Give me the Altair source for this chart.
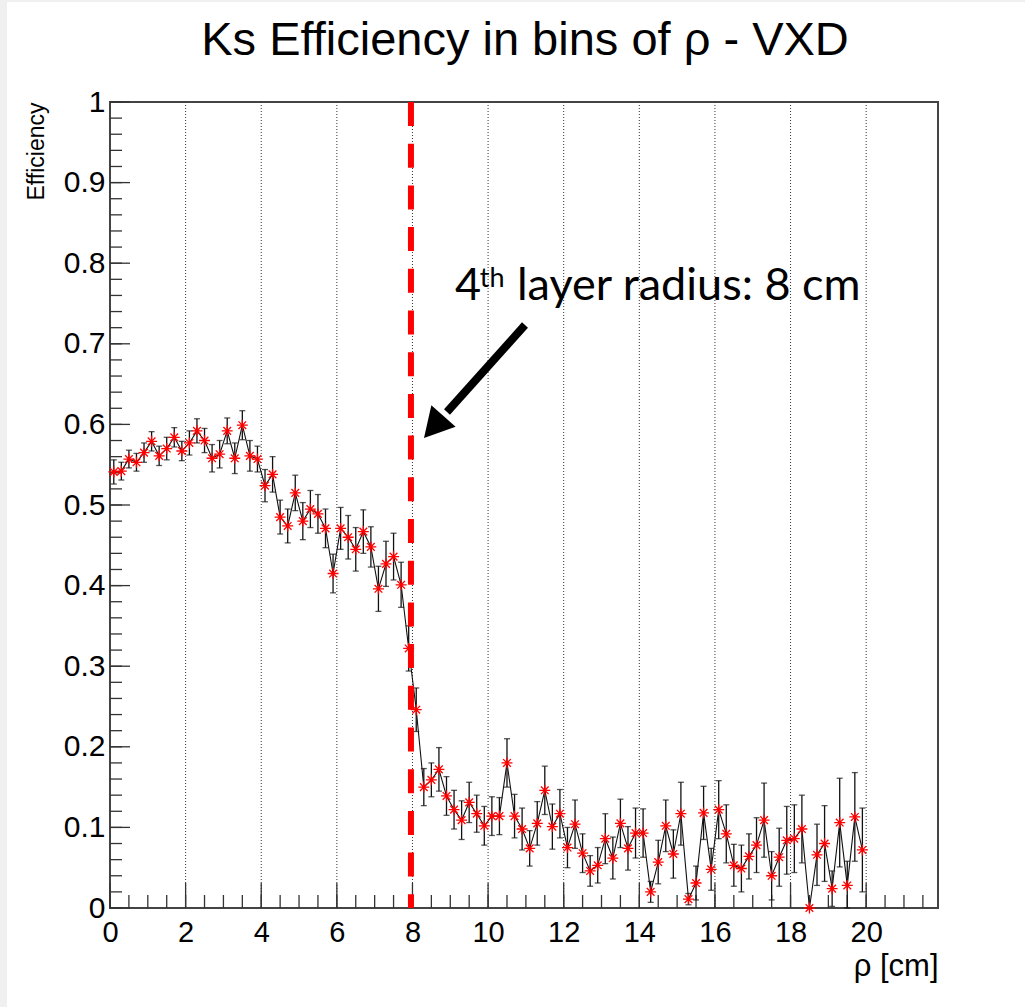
import altair as alt
import pandas as pd

# ---------------- data ----------------
rho = [round(0.1 + 0.2 * i, 1) for i in range(100)]  # bin centres (0.2 cm bins)

eff = [
    0.541, 0.542, 0.557, 0.553, 0.565, 0.579, 0.561, 0.570, 0.584, 0.567,
    0.577, 0.592, 0.580, 0.558, 0.563, 0.592, 0.558, 0.599, 0.561, 0.557,
    0.524, 0.538, 0.485, 0.474, 0.515, 0.480, 0.495, 0.489, 0.471, 0.415,
    0.471, 0.460, 0.445, 0.467, 0.448, 0.396, 0.427, 0.436, 0.401, 0.322,
    0.246, 0.150, 0.159, 0.172, 0.139, 0.122, 0.109, 0.131, 0.117, 0.102,
    0.114, 0.114, 0.180, 0.114, 0.098, 0.074, 0.105, 0.146, 0.101, 0.117,
    0.075, 0.104, 0.068, 0.046, 0.053, 0.086, 0.062, 0.105, 0.074, 0.093,
    0.093, 0.020, 0.057, 0.102, 0.067, 0.117, 0.011, 0.031, 0.118, 0.048,
    0.122, 0.092, 0.053, 0.049, 0.064, 0.078, 0.109, 0.040, 0.063, 0.084,
    0.086, 0.098, 0.000, 0.066, 0.080, 0.024, 0.106, 0.028, 0.113, 0.072,
]

err = [
    0.015, 0.011, 0.011, 0.011, 0.012, 0.012, 0.012, 0.014, 0.012, 0.012,
    0.015, 0.015, 0.015, 0.017, 0.017, 0.016, 0.019, 0.018, 0.019, 0.016,
    0.020, 0.022, 0.021, 0.021, 0.022, 0.023, 0.023, 0.024, 0.024, 0.024,
    0.026, 0.027, 0.027, 0.027, 0.025, 0.028, 0.028, 0.029, 0.028, 0.028,
    0.027, 0.023, 0.021, 0.027, 0.024, 0.024, 0.024, 0.025, 0.023, 0.024,
    0.024, 0.023, 0.030, 0.027, 0.026, 0.022, 0.027, 0.030, 0.028, 0.030,
    0.025, 0.030, 0.024, 0.019, 0.022, 0.031, 0.026, 0.030, 0.027, 0.031,
    0.030, 0.013, 0.027, 0.032, 0.030, 0.039, 0.007, 0.021, 0.033, 0.026,
    0.036, 0.036, 0.026, 0.029, 0.028, 0.034, 0.046, 0.030, 0.036, 0.042,
    0.042, 0.042, 0.000, 0.038, 0.047, 0.022, 0.055, 0.030, 0.055, 0.052,
]

x_major = [0, 2, 4, 6, 8, 10, 12, 14, 16, 18, 20]
x_grid = [2, 4, 6, 8, 10, 12, 14, 16, 18, 20]
x_minor = [i * 0.5 for i in range(44)]
y_major = [0, 0.1, 0.2, 0.3, 0.4, 0.5, 0.6, 0.7, 0.8, 0.9, 1]
y_minor = [round(i * 0.02, 2) for i in range(51)]

layer_radius = [7.96]

title_text = ["Ks Efficiency in bins of ρ - VXD"]

# annotation (data coordinates)
ann_main = [{"x": 9.125, "y": 0.7543, "t": "4"}]
ann_sup = [{"x": 9.78, "y": 0.7705, "t": "th"}]
ann_rest = [{"x": 10.764, "y": 0.7543, "t": "layer radius: 8 cm"}]
arrow_shaft = [{"x": 10.976, "y": 0.7233, "x2": 8.913, "y2": 0.6154}]
arrow_head = [{"x": 8.305, "y": 0.583}]

# ---------------- chart ----------------
W, H = 828, 806
FONT = "Liberation Sans"

df = pd.DataFrame({"x": rho, "y": eff, "e": err})
df["lo"] = (df["y"] - df["e"]).clip(lower=0)
df["hi"] = df["y"] + df["e"]

xs = alt.Scale(domain=[0, 21.9], nice=False, zero=False)
ys = alt.Scale(domain=[0, 1], nice=False, zero=False)

xaxis = alt.Axis(values=x_major, ticks=False, domain=False, grid=False,
                 labelFontSize=29, labelFont=FONT, labelColor="black",
                 labelPadding=10, labelFlush=False,
                 title="ρ [cm]", titleFont=FONT, titleFontSize=31,
                 titleFontWeight="normal", titleColor="black",
                 titleX=W, titleY=67, titleAlign="right",
                 titleBaseline="alphabetic", titleAnchor="end")
yaxis = alt.Axis(values=y_major, ticks=False, domain=False, grid=False,
                 labelFontSize=30, labelFont=FONT, labelColor="black",
                 labelPadding=5, labelFlush=False,
                 labelExpr="format(datum.value, '~g')",
                 title="Efficiency", titleFont=FONT, titleFontSize=23,
                 titleFontWeight="normal", titleColor="black",
                 titleAngle=270, titleX=-67, titleY=0, titleAlign="right",
                 titleBaseline="alphabetic", titleAnchor="end")


def X(f):
    return alt.X(f, type="quantitative", scale=xs, axis=xaxis)


def Y(f):
    return alt.Y(f, type="quantitative", scale=ys, axis=yaxis)


# light slide-background strips at the left and top edges
strip_left = alt.Chart(pd.DataFrame({"x": [0]})).mark_rect(color="#f0f0f0").encode(
    x=alt.value(-110), x2=alt.value(-103), y=alt.value(-102), y2=alt.value(H + 99))
strip_top = alt.Chart(pd.DataFrame({"x": [0]})).mark_rect(color="#f0f0f0").encode(
    x=alt.value(-110), x2=alt.value(W + 87), y=alt.value(-102), y2=alt.value(-100))

title = alt.Chart(pd.DataFrame({"t": title_text})).mark_text(
    font=FONT, fontSize=47, align="center", baseline="alphabetic", color="black"
).encode(x=alt.value(W / 2 + 1), y=alt.value(-47), text="t:N")

grid = alt.Chart(pd.DataFrame({"x": x_grid})).mark_rule(
    color="#333", strokeDash=[1, 2], strokeWidth=1
).encode(x=X("x"), y=alt.value(0), y2=alt.value(H))

xt_major = alt.Chart(pd.DataFrame({"x": x_major})).mark_rule(
    color="#333", strokeWidth=1.3
).encode(x=X("x"), y=alt.value(H), y2=alt.value(H - 25))

xt_minor = alt.Chart(pd.DataFrame({"x": x_minor})).mark_rule(
    color="#333", strokeWidth=1.3
).encode(x=X("x"), y=alt.value(H), y2=alt.value(H - 13))

yt_major = alt.Chart(pd.DataFrame({"y": y_major})).mark_rule(
    color="#333", strokeWidth=1.3
).encode(y=Y("y"), x=alt.value(0), x2=alt.value(20))

yt_minor = alt.Chart(pd.DataFrame({"y": y_minor})).mark_rule(
    color="#333", strokeWidth=1.3
).encode(y=Y("y"), x=alt.value(0), x2=alt.value(12))

line = alt.Chart(df).mark_line(color="#111", strokeWidth=1.1).encode(
    x=X("x"), y=Y("y"))

ebar = alt.Chart(df).mark_rule(color="#111", strokeWidth=1.3).encode(
    x=X("x"), y=Y("lo"), y2="hi")

cap_lo = alt.Chart(df).mark_tick(color="#111", orient="horizontal",
                                 size=6, thickness=1.3).encode(
    x=X("x"), y=Y("lo"))
cap_hi = alt.Chart(df).mark_tick(color="#111", orient="horizontal",
                                 size=6, thickness=1.3).encode(
    x=X("x"), y=Y("hi"))

ASTER = "M-1,0L1,0M0,-1L0,1M-0.7,-0.7L0.7,0.7M-0.7,0.7L0.7,-0.7"
pts = alt.Chart(df).mark_point(shape=ASTER, filled=False, color="#ff0000",
                               size=120, strokeWidth=1.3, opacity=1).encode(
    x=X("x"), y=Y("y"))

vline = alt.Chart(pd.DataFrame({"x": layer_radius})).mark_rule(
    color="#ff0000", strokeWidth=6, strokeDash=[24, 17.7]
).encode(x=X("x"), y=alt.value(0), y2=alt.value(H))

shaft = alt.Chart(pd.DataFrame(arrow_shaft)).mark_rule(
    color="black", strokeWidth=8, strokeCap="butt"
).encode(x=X("x"), y=Y("y"), x2="x2", y2="y2")

HEAD = "M0,0L-0.55,-1L0.55,-1Z"
head = alt.Chart(pd.DataFrame(arrow_head)).mark_point(
    shape=HEAD, filled=True, color="black", size=3457, angle=41.5, opacity=1
).encode(x=X("x"), y=Y("y"))

ANN_FONT = "Lato"
t1 = alt.Chart(pd.DataFrame(ann_main)).mark_text(
    font=ANN_FONT, fontSize=45, align="left", baseline="alphabetic", color="black"
).encode(x=X("x"), y=Y("y"), text="t:N")
t2 = alt.Chart(pd.DataFrame(ann_sup)).mark_text(
    font=ANN_FONT, fontSize=27, align="left", baseline="alphabetic", color="black"
).encode(x=X("x"), y=Y("y"), text="t:N")
t3 = alt.Chart(pd.DataFrame(ann_rest)).mark_text(
    font=ANN_FONT, fontSize=45, align="left", baseline="alphabetic", color="black"
).encode(x=X("x"), y=Y("y"), text="t:N")

chart = alt.layer(
    strip_left, strip_top, title,
    grid, xt_minor, xt_major, yt_minor, yt_major,
    line, ebar, cap_lo, cap_hi, vline, pts, shaft, head, t1, t2, t3
).properties(
    width=W, height=H,
    autosize=alt.AutoSizeParams(type="none"),
    padding={"left": 110, "top": 102, "right": 87, "bottom": 99},
).configure(
    background="white",
    view=alt.ViewConfig(stroke="#444", strokeWidth=2),
)

chart.save("out.html", embed_options={"renderer": "svg", "actions": False})
